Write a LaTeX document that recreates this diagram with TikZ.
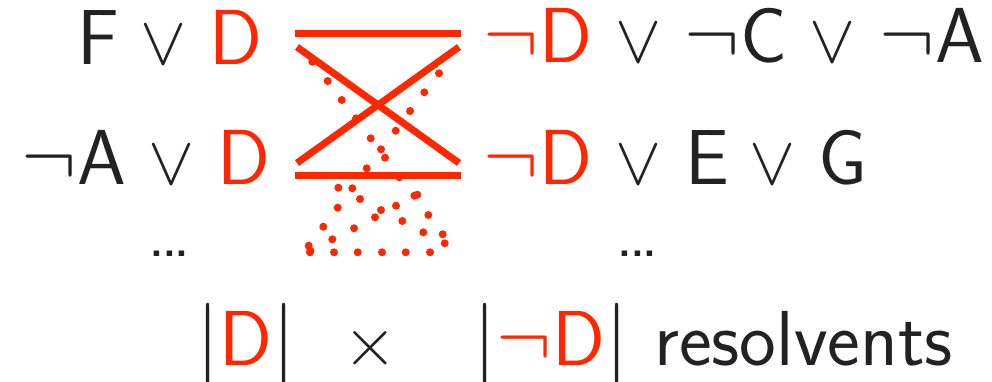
\documentclass[tikz,border=0pt]{standalone}
\usepackage{fontspec}
\usepackage{tikz}
\usetikzlibrary{positioning}
\usepackage{xcolor}

\definecolor{hl}{RGB}{255,38,0}
\definecolor{ink}{RGB}{34,34,34}

\begin{document}
\begin{tikzpicture}[x=0.25pt,y=-0.25pt,
lit/.style={inner sep=0pt,anchor=base,font=\fontsize{19.5}{23}\sffamily,text=ink},
op/.style={lit,font=\LARGE\sffamily},
bar/.style={draw=hl,line width=1.75pt},
grain/.style={fill=hl}]

\useasboundingbox (0,0) rectangle (992,382);

% first pair of clauses
\node[lit] (f) at (98,65) {F};
\node[op] (or1) at (163.5,65) {$\vee$};
\node[lit,text=hl] (d1) at (236,65) {D};
\node[lit,text=hl] (nd1) at (538,63) {$\neg$D};
\node[op] (or2) at (638.5,63) {$\vee$};
\node[lit] (nc) at (736,63) {$\neg$C};
\node[op] (or3) at (833,63) {$\vee$};
\node[lit] (na1) at (932,63) {$\neg$A};

% second pair
\node[lit] (na2) at (74,185) {$\neg$A};
\node[op] (or4) at (171.5,185) {$\vee$};
\node[lit,text=hl] (d2) at (244,185) {D};
\node[lit,text=hl] (nd2) at (538,185) {$\neg$D};
\node[op] (or5) at (638.5,185) {$\vee$};
\node[lit] (e) at (707,185) {E};
\node[op] (or6) at (773,185) {$\vee$};
\node[lit] (g) at (842.5,185) {G};

\node[lit,font=\fontsize{10.5}{12}\sffamily\bfseries] (more1) at (169.5,257) {...};
\node[lit,font=\fontsize{10.5}{12}\sffamily\bfseries] (more2) at (637.5,257) {...};

% count of resolvents
\node[lit] (cd) at (246,366) {$|${\color{hl}D}$|$};
\node[op] (times) at (370.5,366) {$\times$};
\node[lit] (cnd) at (551,366) {$|${\color{hl}$\neg$D}$|$};
\node[lit] (res) at (803.5,366) {resolvents};

% hourglass
\coordinate (tl) at (297,47);
\coordinate (tr) at (459,47);
\coordinate (bl) at (297,163);
\coordinate (br) at (459,163);
\foreach \x/\y in {312.3/61.7, 327.7/81, 341.7/100, 356/118.3, 370.7/138.3,
    381/149.3, 385/157.7, 366.7/168.3, 399.3/177.3, 439/73.3, 424.3/92.3,
    410/111, 395.7/130.7, 338.3/187.7, 352.3/188.3, 360/199, 414.3/195.7,
    417.3/194.7, 337.7/207.7, 381/210, 375/217.3, 396/205.7, 402.3/221,
    428.3/215, 323.3/226.7, 354/228.3, 332.3/239.3, 423.3/232.3,
    442.7/234.3, 444.7/243.3, 308.7/245.7, 310.3/250.7, 310/252.3,
    334/252.3, 357.7/252.3, 382/252.3, 405.7/252.3, 430/252.3}
  \fill[grain] (\x,\y) circle (1pt);
\draw[bar] (295,33.5) -- (461,33.5);
\draw[bar] (295,175.5) -- (461,175.5);
\draw[bar] (tl) -- (br);
\draw[bar] (bl) -- (tr);

\end{tikzpicture}
\end{document}
